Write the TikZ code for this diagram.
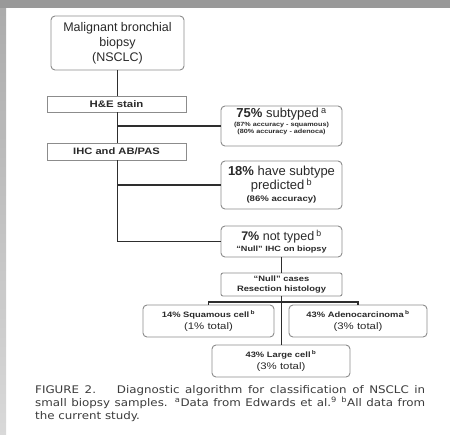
\documentclass[tikz,border=0pt]{standalone}
\usepackage{fontspec}
\setmainfont{Liberation Sans}
\newfontfamily\widefont[FakeStretch=1.2]{Liberation Sans}
\newfontfamily\capfont[FakeStretch=1.13]{DejaVu Sans}
\definecolor{boxline}{HTML}{8C8C8C}
\definecolor{connc}{HTML}{2E2E2E}
\definecolor{txt}{HTML}{2A2A2A}
\definecolor{captxt}{HTML}{3C3C3C}
\begin{document}
\begin{tikzpicture}[x=1pt,y=-1pt,
  rbox/.style={draw=boxline, line width=0.9pt, rounded corners=4pt, fill=white, align=center, inner sep=0pt, text=txt},
  sbox/.style={draw=boxline, line width=0.9pt, fill=white, align=center, inner sep=0pt, text=txt},
  conn/.style={draw=connc, line width=1.7pt},
  small/.style={font=\widefont\bfseries\fontsize{7.8}{10}\selectfont}]
\useasboundingbox (0,0) rectangle (450,434);
\fill[white] (0,0) rectangle (450,434);
% scan frame
\shade[top color=black!33, bottom color=black!15] (0,0) rectangle (6,434);
\fill[black!40] (0,0) rectangle (450,8);

% nodes
\node[rbox, minimum width=133pt, minimum height=54pt, font=\fontsize{12.5}{15}\selectfont] (mal) at (117.5,43) {Malignant bronchial\\biopsy\\(NSCLC)};
\node[sbox, minimum width=139pt, minimum height=16pt, font=\widefont\bfseries\fontsize{9.5}{11}\selectfont] (he) at (116.5,104) {H\&E stain};
\node[sbox, minimum width=139pt, minimum height=17pt, font=\widefont\bfseries\fontsize{9.3}{11}\selectfont] (ihc) at (116.5,151.5) {IHC and AB/PAS};

\node[rbox, minimum width=121pt, minimum height=40pt, font=\fontsize{6}{6.6}\selectfont] (s75) at (281.5,126)
  {{\fontsize{13}{14}\selectfont\textbf{75\%} subtyped\,\textsuperscript{a}}\\[1pt]
   {\widefont\bfseries\fontsize{6}{7}\selectfont (87\% accuracy - squamous)}\\[0.5pt]
   {\widefont\bfseries\fontsize{6}{7}\selectfont (80\% accuracy - adenoca)}\\[3pt]};

\node[rbox, minimum width=121pt, minimum height=48pt, font=\fontsize{13}{14}\selectfont] (s18) at (281.5,185)
  {\textbf{18\%} have subtype\\predicted\,\textsuperscript{b}\\[-2pt]
   {\widefont\bfseries\fontsize{8}{9}\selectfont (86\% accuracy)}};

\node[rbox, minimum width=121pt, minimum height=31pt, font=\fontsize{12.5}{13}\selectfont] (s7) at (281.5,241.5)
  {\textbf{7\%} not typed\,\textsuperscript{b}\\[-2pt]
   {\widefont\bfseries\fontsize{7.6}{9}\selectfont “Null” IHC on biopsy}};

\node[rbox, rounded corners=2pt, minimum width=121pt, minimum height=23pt, small] (null) at (281.5,284.5)
  {“Null” cases\\Resection histology};

\node[rbox, minimum width=131pt, minimum height=32pt, font=\widefont\bfseries\fontsize{7.8}{12.5}\selectfont] (sq) at (208.5,321)
  {14\% Squamous cell\,\textsuperscript{b}\\{\mdseries\fontsize{9.5}{10}\selectfont (1\% total)}};
\node[rbox, minimum width=138pt, minimum height=32pt, font=\widefont\bfseries\fontsize{7.8}{12.5}\selectfont] (ad) at (358,321)
  {43\% Adenocarcinoma\,\textsuperscript{b}\\{\mdseries\fontsize{9.5}{10}\selectfont (3\% total)}};
\node[rbox, minimum width=138pt, minimum height=32pt, font=\widefont\bfseries\fontsize{7.8}{12.5}\selectfont] (lc) at (281,361)
  {43\% Large cell\,\textsuperscript{b}\\{\mdseries\fontsize{9.5}{10}\selectfont (3\% total)}};

% connectors
\draw[conn] (mal.south) -- (mal.south |- he.north);
\draw[conn] (mal.south |- he.south) -- (mal.south |- ihc.north);
\draw[conn] (mal.south |- s75.west) -- (s75.west);
\draw[conn] (mal.south |- ihc.south) -- (mal.south |- s7.west) -- (s7.west);
\draw[conn] (mal.south |- s18.west) -- (s18.west);
\draw[conn] (s7.south) -- (s7.south |- null.north);
\coordinate (bar) at (281.5,302);
\draw[conn] (sq.north) -- (sq.north |- bar) -- (ad.north |- bar) -- (ad.north);
\draw[conn] (null.south) -- (null.south |- lc.north);

% caption
\node[anchor=north west, inner sep=0pt, text width=390pt, align=justify, text=captxt,
      font=\capfont\fontsize{10.5}{13}\selectfont] (cap) at (35,385)
  {FIGURE 2.\hspace{1em} Diagnostic algorithm for classification of NSCLC in\linebreak
   small biopsy samples. \textsuperscript{a}Data from Edwards et al.\textsuperscript{9} \textsuperscript{b}All data from\linebreak
   the current study.};
\end{tikzpicture}
\end{document}
